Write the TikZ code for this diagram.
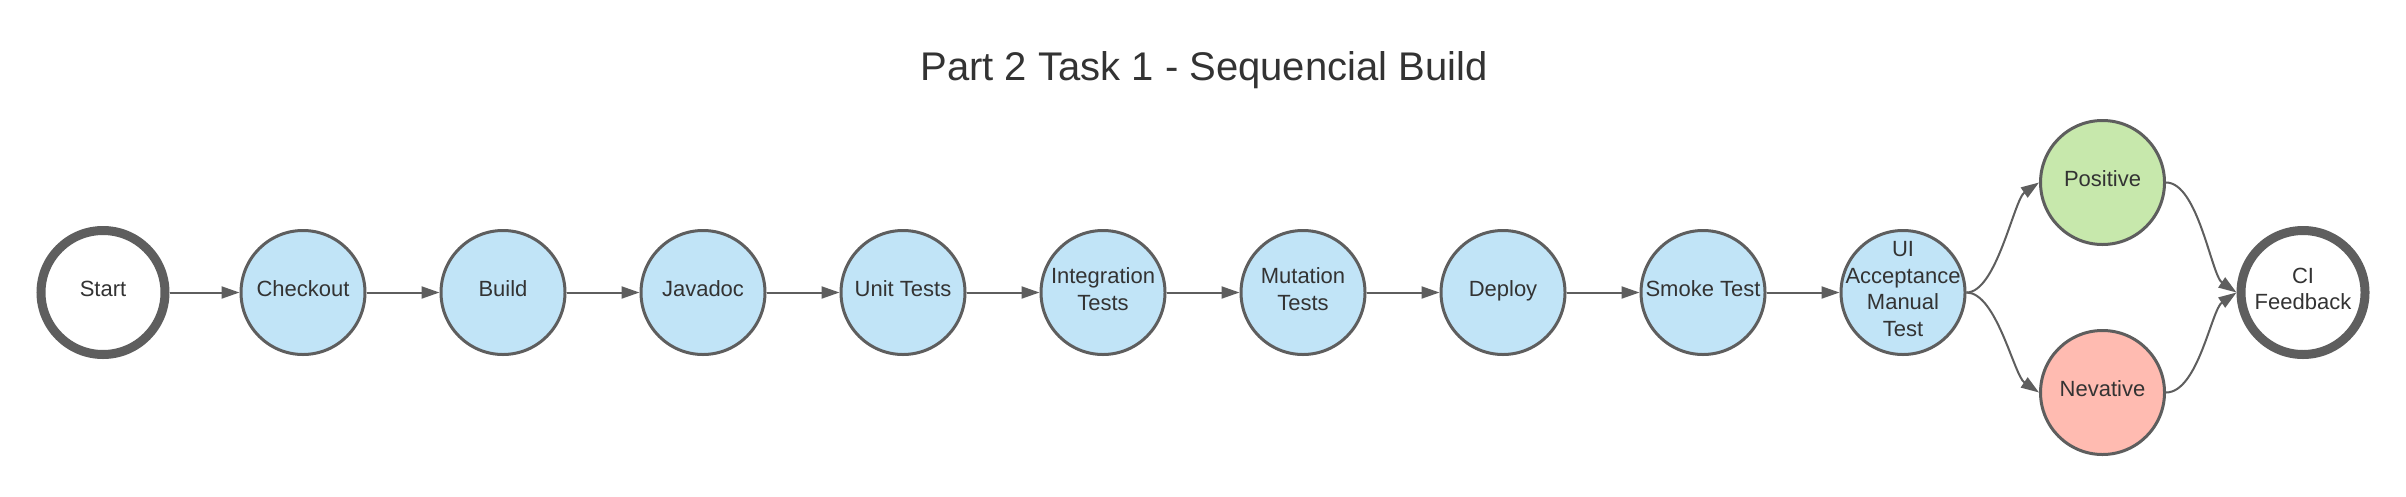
\documentclass[tikz,border=0pt]{standalone}
\usepackage{fontspec}
\setmainfont{Liberation Sans}
\usetikzlibrary{arrows.meta}
\definecolor{lineg}{HTML}{5E5E5E}
\definecolor{txt}{HTML}{333333}
\definecolor{bluef}{HTML}{C1E4F7}
\definecolor{greenf}{HTML}{C7E8AC}
\definecolor{redf}{HTML}{FFBBB1}
\tikzset{
  stage/.style={circle, draw=lineg, line width=3pt, minimum size=124pt, inner sep=-15pt,
    text=txt, align=center, font=\fontsize{22}{26.5}\selectfont,
    execute at end node={\rule[-7pt]{0pt}{7pt}}},
  bluestage/.style={stage, fill=bluef},
  terminal/.style={stage, line width=9pt, fill=white},
  conn/.style={draw=lineg, line width=2pt, -{Triangle[length=18pt,width=12pt]}},
  titletext/.style={text=txt, font=\fontsize{40}{44}\selectfont, anchor=base}
}
\begin{document}
\begin{tikzpicture}[x=1pt,y=-1pt]
\useasboundingbox[fill=white] (0,0) rectangle (2406,496);
\node[titletext] (title) at (1204,80) {Part 2 Task 1 - Sequencial Build};
\node[terminal] (start) at (103,292.5) {Start};
\node[bluestage] (checkout) at (303,292.5) {Checkout};
\node[bluestage] (build) at (503,292.5) {Build};
\node[bluestage] (javadoc) at (703,292.5) {Javadoc};
\node[bluestage] (unit) at (903,292.5) {Unit Tests};
\node[bluestage] (integ) at (1103,292.5) {Integration\\Tests};
\node[bluestage] (mut) at (1303,292.5) {Mutation\\Tests};
\node[bluestage] (deploy) at (1503,292.5) {Deploy};
\node[bluestage] (smoke) at (1703,292.5) {Smoke Test};
\node[bluestage] (ui) at (1903,292.5) {UI\\Acceptance\\Manual\\Test};
\node[stage, fill=greenf] (pos) at (2102.5,182.5) {Positive};
\node[stage, fill=redf] (neg) at (2102.5,392.5) {Nevative};
\node[terminal] (ci) at (2303,292.5) {CI\\Feedback};
\draw[conn] (start) -- (checkout);
\draw[conn] (checkout) -- (build);
\draw[conn] (build) -- (javadoc);
\draw[conn] (javadoc) -- (unit);
\draw[conn] (unit) -- (integ);
\draw[conn] (integ) -- (mut);
\draw[conn] (mut) -- (deploy);
\draw[conn] (deploy) -- (smoke);
\draw[conn] (smoke) -- (ui);
\draw[conn] (ui.east) .. controls +(30,0) and +(-25,17) .. (pos.west);
\draw[conn] (ui.east) .. controls +(30,0) and +(-25,-17) .. (neg.west);
\draw[conn] (pos.east) .. controls +(32,0) and +(-25,-17) .. (ci.west);
\draw[conn] (neg.east) .. controls +(32,0) and +(-25,17) .. (ci.west);
\end{tikzpicture}
\end{document}
